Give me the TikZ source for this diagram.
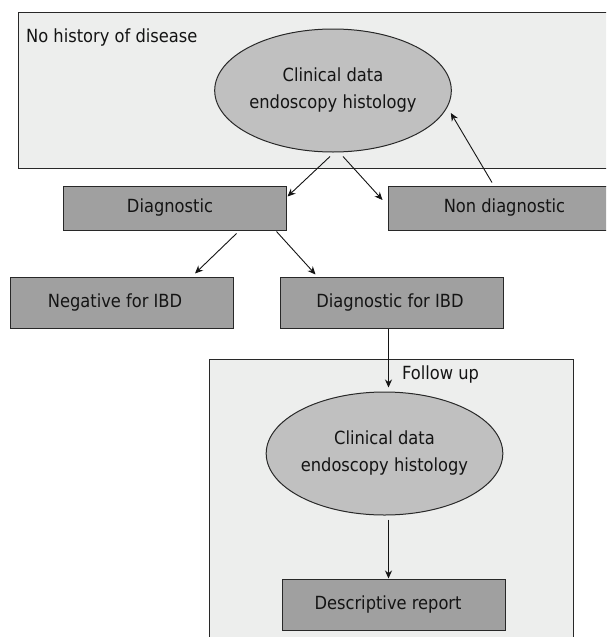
\documentclass[tikz,border=0pt]{standalone}
\usepackage{fontspec}
\setmainfont{DejaVu Sans Condensed}
\usetikzlibrary{shapes.geometric,arrows.meta}
\definecolor{panelbg}{RGB}{237,238,237}
\definecolor{ellfill}{RGB}{192,192,192}
\definecolor{boxfill}{RGB}{160,160,160}
\definecolor{edgecol}{RGB}{40,40,40}
\definecolor{ink}{RGB}{20,20,20}
\newcommand\diagfont{\fontsize{18.1}{27}\selectfont}
\begin{document}
\begin{tikzpicture}[x=1pt,y=-1pt,
  panel/.style={draw=edgecol, line width=1pt, fill=panelbg, anchor=north west, inner sep=0pt},
  procbox/.style={draw=edgecol, line width=1pt, fill=boxfill, minimum width=223pt,
    minimum height=44pt, inner sep=0pt, text=ink, font=\diagfont},
  ellnode/.style={ellipse, draw=edgecol, line width=1pt, fill=ellfill, minimum width=212pt,
    minimum height=123pt, inner sep=0pt, align=center, text=ink, font=\diagfont},
  plainlabel/.style={anchor=base west, inner sep=0pt, text=ink, font=\diagfont},
  conn/.style={draw=ink, line width=0.9pt, -{Stealth[length=8pt,width=7pt]}}]
\useasboundingbox (0,0) rectangle (606,637);
\clip (0,0) rectangle (606,637);
\fill[white] (0,0) rectangle (606,637);
% top panel
\node[panel, minimum width=610pt, minimum height=156pt] (history) at (18,12) {};
\node[plainlabel] (histlabel) at (26,42) {No history of disease};
\node[ellnode] (e1) at (333,90.5) {Clinical data\\endoscopy histology};
% second row
\node[procbox] (diag) at (174.5,208) {\hspace*{-9pt}Diagnostic};
\node[procbox, minimum width=233pt] (nondiag) at (504.5,208) {Non diagnostic};
% third row
\node[procbox, minimum height=51pt] (neg) at (122,302.5) {\hspace*{-14pt}Negative for IBD};
\node[procbox, minimum height=51pt] (dfibd) at (391.5,302.5) {\hspace*{-3pt}Diagnostic for IBD};
% follow-up panel
\node[panel, minimum width=364pt, minimum height=290pt] (followup) at (209,359) {};
\node[plainlabel] (fulabel) at (402,379) {Follow up};
\node[ellnode] (e2) at (384.5,453.5) {Clinical data\\endoscopy histology};
\node[procbox, minimum height=51pt] (desc) at (394,604.5) {\hspace*{-12pt}Descriptive report};
% connectors
\draw[conn] ([xshift=-3pt,yshift=-4pt]e1.south) -- ([xshift=1pt,yshift=-11pt]diag.north east);
\draw[conn] ([xshift=10pt,yshift=-4pt]e1.south) -- ([xshift=-5pt,yshift=8pt]nondiag.west);
\draw[conn] ([xshift=-12.5pt,yshift=3pt]nondiag.north) -- ([xshift=-1pt,yshift=-22.5pt]e1.east);
\draw[conn] ([xshift=-50pt,yshift=-3pt]diag.south east) -- ([xshift=-39pt,yshift=3pt]neg.north east);
\draw[conn] ([xshift=-10pt,yshift=-1pt]diag.south east) -- ([xshift=36pt,yshift=2pt]dfibd.north west);
\draw[conn] ([xshift=-3pt]dfibd.south) -- ([xshift=4pt,yshift=4pt]e2.north);
\draw[conn] ([xshift=4pt,yshift=-4pt]e2.south) -- ([xshift=-5.5pt]desc.north);
\end{tikzpicture}
\end{document}
